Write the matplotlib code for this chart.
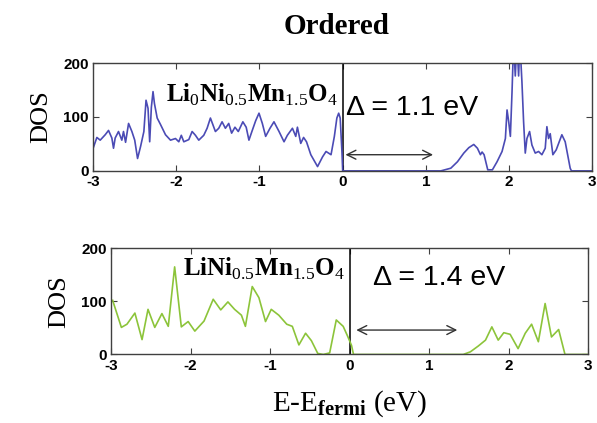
import matplotlib
matplotlib.use("Agg")
import matplotlib.pyplot as plt

plt.rcParams["axes.unicode_minus"] = False
plt.rcParams["mathtext.fontset"] = "custom"
plt.rcParams["mathtext.rm"] = "Liberation Serif"
plt.rcParams["mathtext.bf"] = "Liberation Serif:bold"

# ordered Li0Ni0.5Mn1.5O4 (top)
top_x = [-3.0, -2.955, -2.915, -2.855, -2.815, -2.775, -2.755, -2.735, -2.695, -2.655,
         -2.635, -2.61, -2.574, -2.534, -2.5, -2.466, -2.43, -2.39, -2.364, -2.34,
         -2.32, -2.30, -2.28, -2.263, -2.23, -2.19, -2.13, -2.07, -2.01, -1.97,
         -1.94, -1.91, -1.85, -1.81, -1.77, -1.73, -1.67, -1.63, -1.59, -1.53,
         -1.49, -1.45, -1.41, -1.37, -1.335, -1.295, -1.255, -1.20, -1.16, -1.127,
         -1.087, -1.046, -1.006, -0.966, -0.926, -0.874, -0.826, -0.765, -0.705, -0.665,
         -0.604, -0.564, -0.544, -0.504, -0.47, -0.435, -0.383, -0.302, -0.242, -0.20,
         -0.14, -0.10, -0.07, -0.048, -0.03, -0.008, 0.0, 1.18,
         1.30, 1.38, 1.456, 1.516, 1.576, 1.62, 1.656, 1.676, 1.70, 1.744,
         1.80, 1.856, 1.916, 1.956, 1.976, 1.996, 2.016, 2.036, 2.055, 2.075,
         2.095, 2.115, 2.13, 2.155, 2.175, 2.195, 2.215, 2.247, 2.275, 2.315,
         2.355, 2.395, 2.435, 2.455, 2.475, 2.495, 2.527, 2.567, 2.635, 2.675,
         2.735, 2.75, 3.0]
top_y = [42, 62, 57, 67, 75, 61, 42, 61, 73, 57,
         73, 53, 88, 73, 57, 23, 45, 73, 131, 116,
         54, 118, 147, 125, 98, 86, 67, 57, 60, 54,
         66, 54, 58, 73, 66, 57, 66, 79, 98, 73,
         79, 91, 79, 88, 70, 81, 73, 91, 81, 57,
         75, 93, 107, 88, 64, 79, 91, 73, 54, 66,
         79, 64, 81, 51, 62, 54, 30, 8, 26, 36,
         30, 64, 98, 107, 98, 33, 0, 0,
         5, 17, 33, 43, 49, 42, 30, 35, 30, 2,
         2, 17, 36, 60, 113, 91, 64, 147, 240, 176,
         240, 176, 240, 165, 91, 33, 60, 73, 48, 33,
         36, 30, 42, 82, 60, 69, 30, 39, 67, 54,
         5, 0, 0]

# LiNi0.5Mn1.5O4 (bottom)
bot_x = [-2.98, -2.87, -2.80, -2.70, -2.61, -2.535, -2.45, -2.36, -2.28, -2.20,
         -2.116, -2.03, -1.946, -1.83, -1.715, -1.62, -1.53, -1.446, -1.36, -1.31,
         -1.224, -1.14, -1.057, -0.985, -0.89, -0.79, -0.72, -0.637, -0.553, -0.48,
         -0.40, -0.33, -0.25, -0.167, -0.08, -0.02, 0.025, 0.05, 1.43,
         1.52, 1.62, 1.71, 1.79, 1.87, 1.94, 2.02, 2.12, 2.21, 2.29,
         2.375, 2.46, 2.54, 2.63, 2.71, 3.0]
bot_y = [102, 51, 57, 78, 28, 85, 51, 77, 53, 165,
         52, 62, 44, 63, 104, 84, 99, 85, 74, 53,
         128, 107, 62, 85, 74, 57, 53, 18, 40, 26,
         2, 0, 3, 65, 53, 33, 17, 0, 0,
         5, 16, 27, 52, 27, 41, 38, 11, 40, 57,
         24, 96, 33, 47, 0, 0]

serif = "Liberation Serif"
sans = "Liberation Sans"

fig = plt.figure(figsize=(5.97, 4.23), dpi=100)
ax1 = fig.add_axes([0.156, 0.596, 0.836, 0.255])
ax2 = fig.add_axes([0.186, 0.162, 0.799, 0.251])

for ax in (ax1, ax2):
    ax.set_xlim(-3, 3)
    ax.set_ylim(0, 200)
    ax.set_xticks([-3, -2, -1, 0, 1, 2, 3])
    ax.set_yticks([0, 100, 200])
    ax.tick_params(direction="in", top=True, right=True, length=4,
                   width=0.8, color="#404040", pad=3)
    for lab in ax.get_xticklabels() + ax.get_yticklabels():
        lab.set_fontfamily(sans)
        lab.set_fontweight("bold")
        lab.set_fontsize(11)
    for sp in ax.spines.values():
        sp.set_color("#404040")
        sp.set_linewidth(1.0)
    ax.axvline(0, color="black", lw=1.1)
    ax.set_ylabel("DOS", family=serif, fontsize=19, labelpad=8)

ax1.plot(top_x, top_y, color="#4b4bb5", lw=1.2, clip_on=True)
ax2.plot(bot_x, bot_y, color="#8cc43a", lw=1.2)

ax1.text(-2.12, 140, r"Li$_0$Ni$_{0.5}$Mn$_{1.5}$O$_4$", family=serif,
         fontweight="bold", fontsize=18, ha="left", va="center")
ax2.text(-2.10, 162, r"LiNi$_{0.5}$Mn$_{1.5}$O$_4$", family=serif,
         fontweight="bold", fontsize=18, ha="left", va="center")

ax1.text(0.04, 117, "\u0394 = 1.1 eV", family=sans, fontsize=20.5,
         ha="left", va="center")
ax2.text(0.29, 144, "\u0394 = 1.4 eV", family=sans, fontsize=20.5,
         ha="left", va="center")

arrow = dict(arrowstyle="<->", color="#333333", lw=1.0, mutation_scale=16)
ax1.annotate("", xy=(0.0, 30), xytext=(1.12, 30), arrowprops=arrow)
ax2.annotate("", xy=(0.05, 46), xytext=(1.39, 46), arrowprops=arrow)

ax2.set_xlabel(r"E-E$_{\mathbf{fermi}}$ (eV)", family=serif, fontsize=21, labelpad=11)
fig.text(0.563, 0.938, "Ordered", family=serif, fontweight="bold",
         fontsize=21, ha="center", va="center")

fig.savefig("out.png", dpi=100)
